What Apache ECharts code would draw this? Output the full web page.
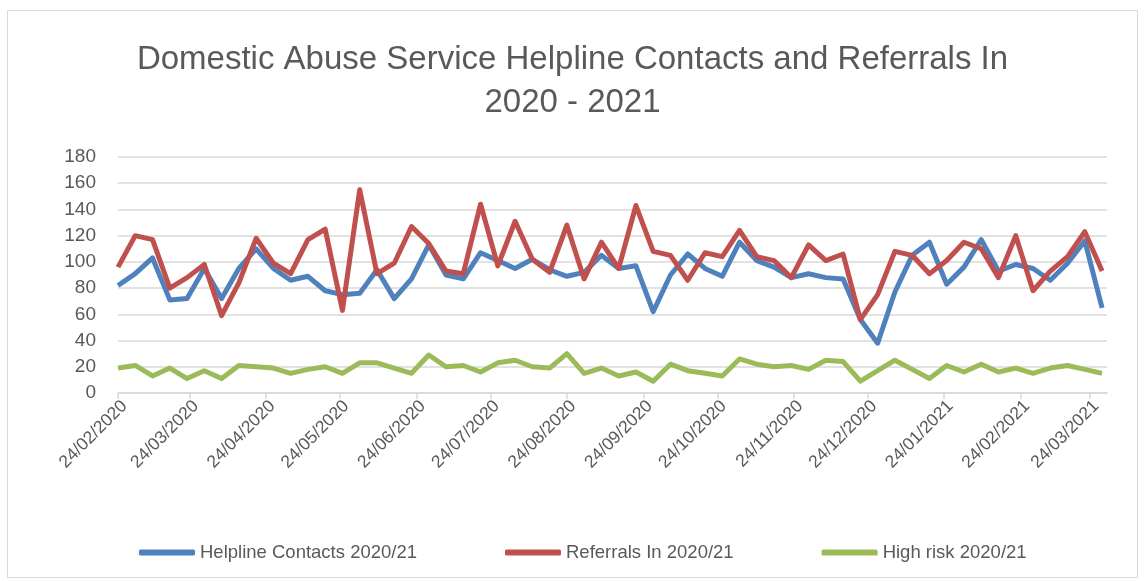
<!DOCTYPE html>
<html>
<head>
<meta charset="utf-8">
<script src="https://cdn.jsdelivr.net/npm/echarts@6/dist/echarts.min.js"></script>
<style>
  html, body { margin: 0; padding: 0; background: #ffffff; }
  #frame { position: absolute; left: 7px; top: 10px; width: 1131px; height: 568px; border: 1px solid #d9d9d9; box-sizing: border-box; }
  #chart { position: absolute; left: 0; top: 0; width: 1145px; height: 581px; }
</style>
</head>
<body>
<div id="frame"></div>
<div id="chart"></div>
<script>
const weeks = [
  '2020-02-24','2020-03-02','2020-03-09','2020-03-16','2020-03-23','2020-03-30',
  '2020-04-06','2020-04-13','2020-04-20','2020-04-27','2020-05-04','2020-05-11',
  '2020-05-18','2020-05-25','2020-06-01','2020-06-08','2020-06-15','2020-06-22',
  '2020-06-29','2020-07-06','2020-07-13','2020-07-20','2020-07-27','2020-08-03',
  '2020-08-10','2020-08-17','2020-08-24','2020-08-31','2020-09-07','2020-09-14',
  '2020-09-21','2020-09-28','2020-10-05','2020-10-12','2020-10-19','2020-10-26',
  '2020-11-02','2020-11-09','2020-11-16','2020-11-23','2020-11-30','2020-12-07',
  '2020-12-14','2020-12-21','2020-12-28','2021-01-04','2021-01-11','2021-01-18',
  '2021-01-25','2021-02-01','2021-02-08','2021-02-15','2021-02-22','2021-03-01',
  '2021-03-08','2021-03-15','2021-03-22','2021-03-29'
];
const helplineContacts = [
  82, 91, 103, 71, 72, 95, 72, 95, 110, 95, 86, 89, 78, 75, 76, 94, 72, 87, 113, 90,
  87, 107, 101, 95, 102, 94, 89, 92, 105, 95, 97, 62, 90, 106, 95, 89, 115, 101, 96, 88,
  91, 88, 87, 56, 38, 77, 105, 115, 83, 96, 117, 93, 98, 95, 86, 99, 116, 65
];
const referralsIn = [
  96, 120, 117, 80, 88, 98, 59, 84, 118, 99, 91, 117, 125, 63, 155, 91, 99, 127, 114, 93,
  91, 144, 97, 131, 102, 92, 128, 87, 115, 95, 143, 108, 105, 86, 107, 104, 124, 104, 101, 88,
  113, 101, 106, 56, 75, 108, 105, 91, 101, 115, 110, 88, 120, 78, 93, 104, 123, 93
];
const highRisk = [
  19, 21, 13, 19, 11, 17, 11, 21, 20, 19, 15, 18, 20, 15, 23, 23, 19, 15, 29, 20,
  21, 16, 23, 25, 20, 19, 30, 15, 19, 13, 16, 9, 22, 17, 15, 13, 26, 22, 20, 21,
  18, 25, 24, 9, 17, 25, 18, 11, 21, 16, 22, 16, 19, 15, 19, 21, 18, 15
];
const tickDates = [
  '2020-02-24','2020-03-24','2020-04-24','2020-05-24','2020-06-24','2020-07-24',
  '2020-08-24','2020-09-24','2020-10-24','2020-11-24','2020-12-24','2021-01-24',
  '2021-02-24','2021-03-24'
];
const axisStart = '2020-02-24';
const axisEnd = '2021-03-31';
const seriesNames = ['Helpline Contacts 2020/21', 'Referrals In 2020/21', 'High risk 2020/21'];
const colors = ['#4f81bd', '#c0504d', '#9bbb59'];

// day number (UTC days) so the x axis is a plain value axis of days
function dayNum(s) { const p = s.split('-'); return Date.UTC(+p[0], +p[1] - 1, +p[2]) / 86400000; }
function fmt(v) {
  const d = new Date(Math.round(v) * 86400000);
  const dd = String(d.getUTCDate()).padStart(2, '0');
  const mm = String(d.getUTCMonth() + 1).padStart(2, '0');
  return dd + '/' + mm + '/' + d.getUTCFullYear();
}
const tickDays = tickDates.map(dayNum);
const pairs = arr => weeks.map((w, i) => [dayNum(w), arr[i]]);

const chart = echarts.init(document.getElementById('chart'), null, { renderer: 'canvas' });
chart.setOption({
  animation: false,
  color: colors,
  textStyle: { fontFamily: 'Liberation Sans' },
  title: {
    text: 'Domestic Abuse Service Helpline Contacts and Referrals In\n2020 - 2021',
    left: 'center',
    top: 33,
    textStyle: { fontSize: 33, fontWeight: 'normal', color: '#595959', lineHeight: 43, fontFamily: 'Liberation Sans' }
  },
  grid: { left: 118, right: 38, top: 157, bottom: 188 },
  xAxis: {
    type: 'value',
    min: dayNum(axisStart),
    max: dayNum(axisEnd),
    axisLine: { show: true, onZero: false, lineStyle: { color: '#d9d9d9', width: 1.5 } },
    axisTick: { show: true, length: 6, lineStyle: { color: '#d9d9d9', width: 1.5 }, customValues: tickDays },
    splitLine: { show: false },
    axisLabel: {
      customValues: tickDays,
      formatter: v => fmt(v),
      rotate: 45,
      color: '#595959',
      fontSize: 17.5,
      margin: 4,
      verticalAlign: 'top',
      hideOverlap: false,
      showMinLabel: true,
      showMaxLabel: true
    }
  },
  yAxis: {
    type: 'value',
    min: 0, max: 180, interval: 20,
    axisLine: { show: false },
    axisTick: { show: false },
    splitLine: { lineStyle: { color: '#d9d9d9', width: 1.5 } },
    axisLabel: { color: '#595959', fontSize: 19, margin: 22 }
  },
  legend: {
    bottom: 14,
    left: 134,
    itemGap: 88,
    itemWidth: 56,
    itemHeight: 6,
    icon: 'roundRect',
    textStyle: { color: '#595959', fontSize: 18.5 },
    data: seriesNames
  },
  series: [
    { name: seriesNames[0], type: 'line', data: pairs(helplineContacts), showSymbol: false, symbol: 'none', lineStyle: { width: 5, color: colors[0], join: 'round' }, z: 3 },
    { name: seriesNames[1], type: 'line', data: pairs(referralsIn), showSymbol: false, symbol: 'none', lineStyle: { width: 5, color: colors[1], join: 'round' }, z: 4 },
    { name: seriesNames[2], type: 'line', data: pairs(highRisk), showSymbol: false, symbol: 'none', lineStyle: { width: 5, color: colors[2], join: 'round' }, z: 2 }
  ]
});
</script>
</body>
</html>
